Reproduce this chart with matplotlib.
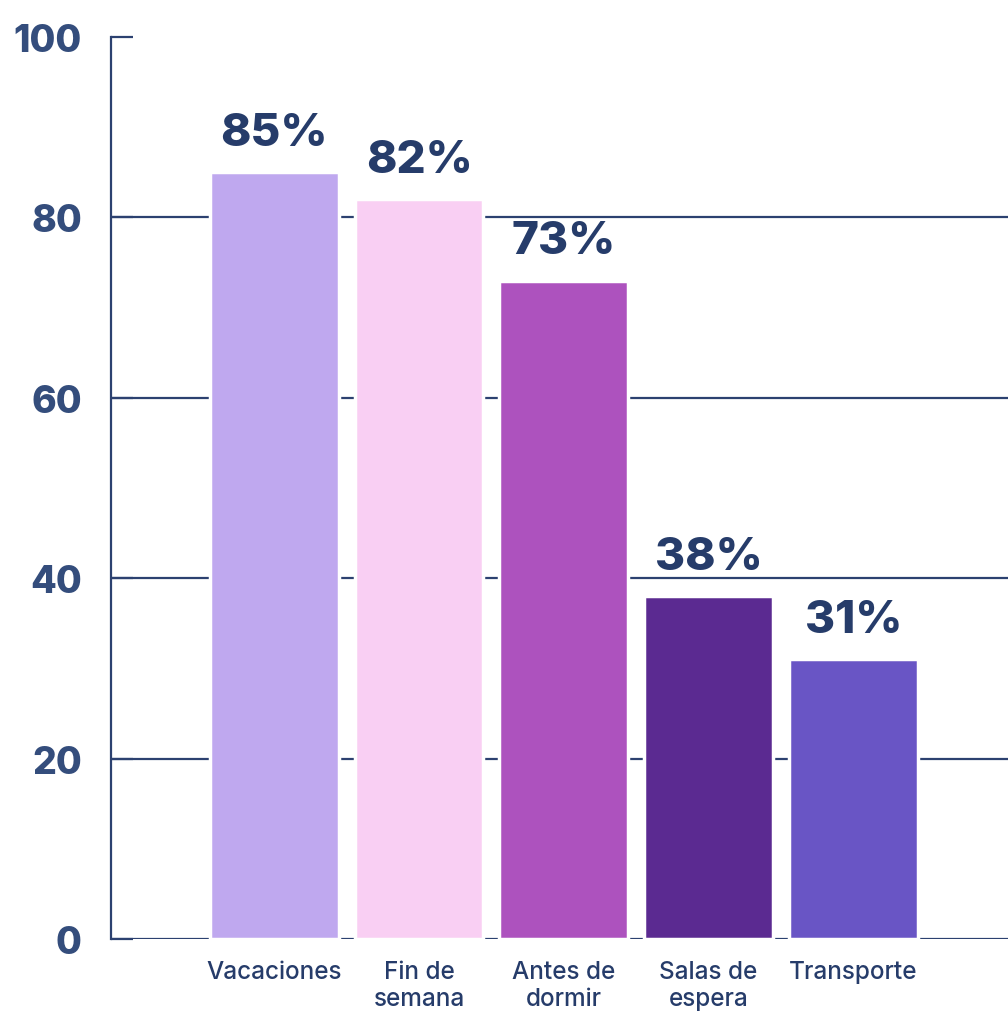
import matplotlib.pyplot as plt
import numpy as np

categorias = ["Vacaciones", "Fin de\nsemana", "Antes de\ndormir", "Salas de\nespera", "Transporte"]
valores = [85, 82, 73, 38, 31]
colores = ["#bfa8ef", "#f9cff3", "#ad52be", "#5b2a91", "#6955c5"]
yticks = [0, 20, 40, 60, 80, 100]

azul = "#2c4170"
texto = "#263c6a"

plt.rcParams['font.family'] = ['Inter', 'DejaVu Sans']

fig = plt.figure(figsize=(10.08, 10.12), dpi=100)
ax = fig.add_axes([111 / 1008, 1 - 940 / 1012, 1 - 111 / 1008, (940 - 38) / 1012])

x = np.arange(len(categorias))

# lineas de cuadricula (quedan tapadas por el borde blanco de las barras)
for y in yticks[:-1]:
    ax.axhline(y, color=azul, linewidth=1.6, zorder=1)

ax.bar(x, valores, width=0.89, color=colores, edgecolor="white", linewidth=2.5, zorder=2)

for xi, v in zip(x, valores):
    ax.text(xi, v + 2.0, f"{v}%", ha="center", va="bottom", fontsize=33,
            fontweight="heavy", color=texto, zorder=3)

ax.set_xlim(-1.128, len(categorias) - 1 + 1.069)
ax.set_ylim(0, 100)

ax.set_yticks(yticks)
ax.set_yticklabels([str(t) for t in yticks], fontsize=27, fontweight="heavy", color="#344d7c")
ax.tick_params(axis="y", direction="in", length=16, width=1.6, color=azul, pad=21)

ax.set_xticks(x)
ax.set_xticklabels(categorias, fontsize=17.5, fontweight="medium", color=texto,
                   linespacing=1.25, va="top")
ax.tick_params(axis="x", length=0, pad=15)

for s in ["top", "right", "bottom"]:
    ax.spines[s].set_visible(False)
ax.spines["left"].set_color(azul)
ax.spines["left"].set_linewidth(1.6)

fig.savefig("out.png", dpi=100)
